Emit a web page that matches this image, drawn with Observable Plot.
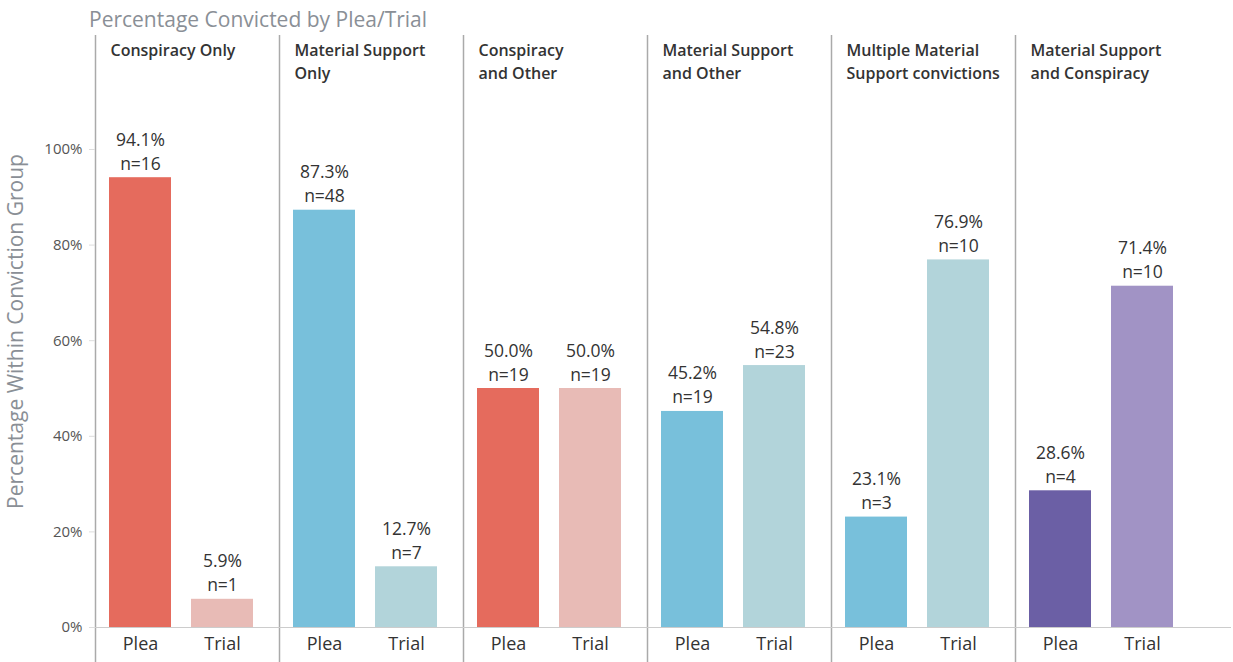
<!DOCTYPE html>
<html>
<head>
<meta charset="utf-8">
<script src="https://cdn.jsdelivr.net/npm/d3@7"></script>
<script src="https://cdn.jsdelivr.net/npm/@observablehq/plot@0.6"></script>
<style>
  html, body { margin: 0; padding: 0; background: #fff; }
  #title { height: 35px; line-height: 39px; padding-left: 89px; font-family: "Open Sans", sans-serif; font-size: 21px; color: #8a8f96; }
  #chart svg { display: block; }
</style>
</head>
<body>
<div id="title">Percentage Convicted by Plea/Trial</div>
<div id="chart"></div>
<script>
// ---- data ----
const groups = ["Conspiracy Only", "Material Support Only", "Conspiracy and Other", "Material Support and Other", "Multiple Material Support convictions", "Material Support and Conspiracy"];
const groupTitles = ["Conspiracy Only", "Material Support\nOnly", "Conspiracy\nand Other", "Material Support\nand Other", "Multiple Material\nSupport convictions", "Material Support\nand Conspiracy"];
const groupFamily = ["conspiracy", "material", "conspiracy", "material", "material", "both"];
const methods = ["Plea", "Trial"];
const pleaPct = [94.1, 87.3, 50.0, 45.2, 23.1, 28.6];
const pleaN = [16, 48, 19, 19, 3, 4];
const trialPct = [5.9, 12.7, 50.0, 54.8, 76.9, 71.4];
const trialN = [1, 7, 19, 23, 10, 10];
const yTicks = [0, 20, 40, 60, 80, 100];

// ---- palette ----
const colorDomain = ["conspiracy Plea", "conspiracy Trial", "material Plea", "material Trial", "both Plea", "both Trial"];
const colorRange = ["#e56b5d", "#e8bbb6", "#78c0db", "#b2d4da", "#6b5fa5", "#a193c5"];

const rows = [];
groups.forEach((g, i) => {
  rows.push({group: g, method: "Plea", pct: pleaPct[i], n: pleaN[i], key: groupFamily[i] + " Plea"});
  rows.push({group: g, method: "Trial", pct: trialPct[i], n: trialN[i], key: groupFamily[i] + " Trial"});
});
const titles = groups.map((g, i) => ({group: g, title: groupTitles[i]}));

const chart = Plot.plot({
  width: 1233,
  height: 627,
  marginLeft: 93,
  marginRight: 32,
  marginTop: 0,
  marginBottom: 35,
  style: {fontFamily: "'Open Sans', sans-serif", color: "#333", background: "#fff"},
  fx: {domain: groups, padding: 0, axis: null},
  x: {domain: methods, paddingInner: 0.24, paddingOuter: 0.23, align: 0.36},
  y: {domain: [0, 123.85]},
  color: {domain: colorDomain, range: colorRange},
  marks: [
    Plot.frame({anchor: "left", stroke: "#aaa", strokeWidth: 1.5, insetBottom: -35}),
    Plot.ruleY([0], {stroke: "#ccc", insetLeft: -5, insetRight: -32}),
    Plot.barY(rows, {fx: "group", x: "method", y: "pct", fill: "key"}),
    Plot.text(rows, {
      fx: "group", x: "method", y: "pct",
      text: d => `${d.pct.toFixed(1)}%\nn=${d.n}`,
      lineAnchor: "bottom", dy: -8, fontSize: 17.5, lineHeight: 1.37, fill: "#333",
      letterSpacing: "1.1px"
    }),
    Plot.text(titles, {
      fx: "group", text: "title", frameAnchor: "top-left",
      dx: 15, dy: 4, lineAnchor: "top", textAnchor: "start",
      fontSize: 16, fontWeight: 600, lineHeight: 1.44, fill: "#333"
    }),
    Plot.axisX({anchor: "bottom", tickSize: 0, tickPadding: 10, fontSize: 18, color: "#333", label: null}),
    Plot.axisY({ticks: yTicks, tickFormat: d => d + "%", tickSize: 6, tickPadding: 7, fontSize: 15, color: "#555", stroke: "#ddd", label: null}),
    Plot.axisY({ticks: [], label: "Percentage Within Conviction Group", labelArrow: "none", labelAnchor: "center", labelOffset: 87, fontSize: 21, color: "#8a8f96"})
  ]
});
document.getElementById("chart").appendChild(chart);
</script>
</body>
</html>
